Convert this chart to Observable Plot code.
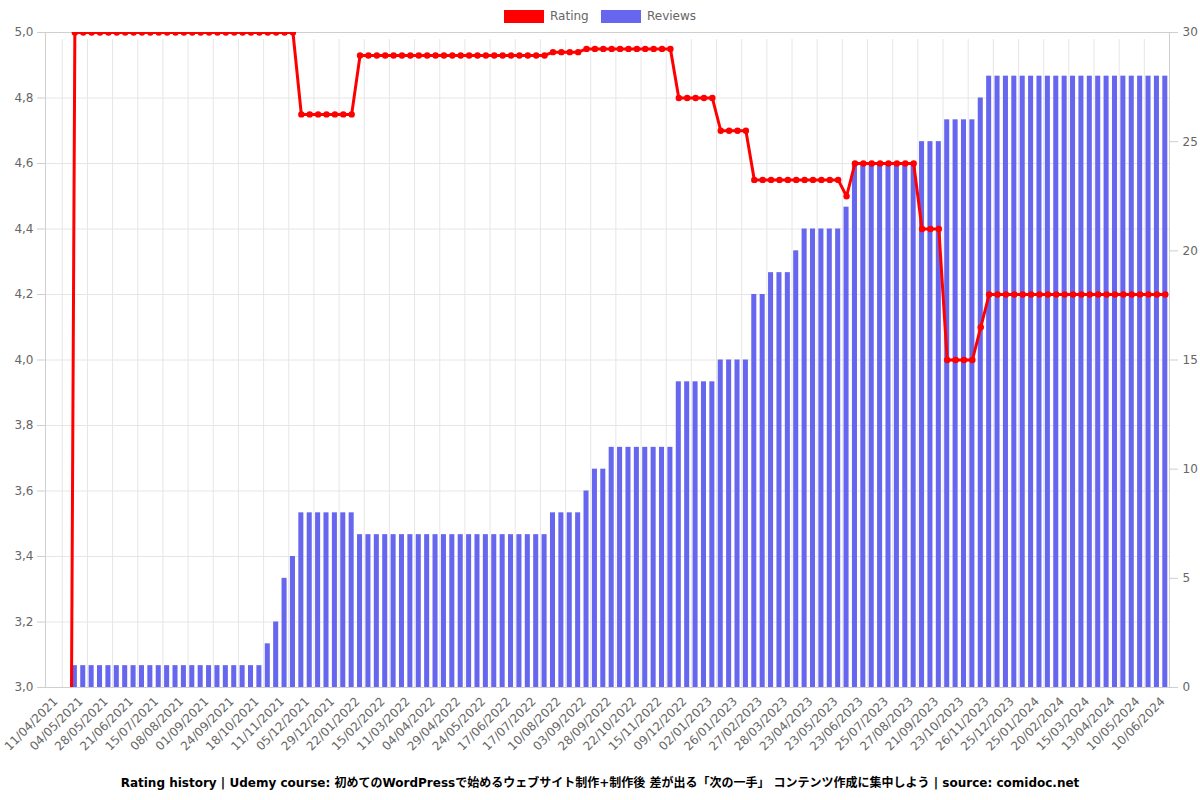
<!DOCTYPE html>
<html><head><meta charset="utf-8">
<script src="https://cdn.jsdelivr.net/npm/d3@7"></script>
<script src="https://cdn.jsdelivr.net/npm/@observablehq/plot@0.6"></script>
<style>
body{margin:0;background:#fff;font-family:"DejaVu Sans",sans-serif;}
#legend{height:26px;position:relative;font-size:12px;color:#666;}
.item{position:absolute;top:9px;display:flex;align-items:center;height:14px;}
.sw{width:40px;height:13px;margin-right:6px;}
#caption{text-align:center;font-weight:bold;font-size:12px;color:#000;padding-top:7px;font-family:"DejaVu Sans","Noto Sans CJK JP",sans-serif;}
</style></head><body>
<div id="legend">
  <div class="item" style="left:504px"><div class="sw" style="background:#ff0000"></div>Rating</div>
  <div class="item" style="left:601px"><div class="sw" style="background:#6666ee"></div>Reviews</div>
</div>
<div id="chart"></div>
<div id="caption">Rating history | Udemy course: 初めてのWordPressで始めるウェブサイト制作+制作後 差が出る「次の一手」 コンテンツ作成に集中しよう | source: comidoc.net</div>
<script>
const tickLabels = ["11/04/2021","04/05/2021","28/05/2021","21/06/2021","15/07/2021","08/08/2021","01/09/2021","24/09/2021","18/10/2021","11/11/2021","05/12/2021","29/12/2021","22/01/2022","15/02/2022","11/03/2022","04/04/2022","29/04/2022","24/05/2022","17/06/2022","17/07/2022","10/08/2022","03/09/2022","28/09/2022","22/10/2022","15/11/2022","09/12/2022","02/01/2023","26/01/2023","27/02/2023","28/03/2023","23/04/2023","23/05/2023","23/06/2023","25/07/2023","27/08/2023","21/09/2023","23/10/2023","26/11/2023","25/12/2023","25/01/2024","20/02/2024","15/03/2024","13/04/2024","10/05/2024","10/06/2024"];

const ratings = [
 0,0,0,
 5,5,5,5,5,5,5,5,5,5,5,5,5,5,5,5,5,5,5,5,5,5,5,5,5,5,5,
 4.75,4.75,4.75,4.75,4.75,4.75,4.75,
 4.93,4.93,4.93,4.93,4.93,4.93,4.93,4.93,4.93,4.93,4.93,4.93,4.93,4.93,4.93,4.93,4.93,4.93,4.93,4.93,4.93,4.93,4.93,
 4.94,4.94,4.94,4.94,
 4.95,4.95,4.95,4.95,4.95,4.95,4.95,4.95,4.95,4.95,4.95,
 4.8,4.8,4.8,4.8,4.8,
 4.7,4.7,4.7,4.7,
 4.55,4.55,4.55,4.55,4.55,4.55,4.55,4.55,4.55,4.55,4.55,
 4.5,
 4.6,4.6,4.6,4.6,4.6,4.6,4.6,4.6,
 4.4,4.4,4.4,
 4.0,4.0,4.0,4.0,
 4.1,
 4.2,4.2,4.2,4.2,4.2,4.2,4.2,4.2,4.2,4.2,4.2,4.2,4.2,4.2,4.2,4.2,4.2,4.2,4.2,4.2,4.2,4.2
];

const reviews = [
 0,0,0,
 1,1,1,1,1,1,1,1,1,1,1,1,1,1,1,1,1,1,1,1,1,1,1,
 2,3,5,6,
 8,8,8,8,8,8,8,
 7,7,7,7,7,7,7,7,7,7,7,7,7,7,7,7,7,7,7,7,7,7,7,
 8,8,8,8,
 9,
 10,10,
 11,11,11,11,11,11,11,11,
 14,14,14,14,14,
 15,15,15,15,
 18,18,
 19,19,19,
 20,
 21,21,21,21,21,
 22,
 24,24,24,24,24,24,24,24,
 25,25,25,
 26,26,26,26,
 27,
 28,28,28,28,28,28,28,28,28,28,28,28,28,28,28,28,28,28,28,28,28,28
];

const ratingTicks = [3.0,3.2,3.4,3.6,3.8,4.0,4.2,4.4,4.6,4.8,5.0];
const reviewTicks = [0,5,10,15,20,25,30];

const n = ratings.length;
const data = ratings.map((r,i)=>({i, rating:r, reviews:reviews[i]}));
const W=1200, H=740, mL=45, mR=31, mT=6, mB=79;
const step = (W-mL-mR)/n;
const toY = v => 3 + v*2/30;
const tickIdx = tickLabels.map((_,k)=>k*3);
const gridIdx = tickLabels.slice(1).map((_,k)=>(k+1)*3-1);

const chart = Plot.plot({
  width:W, height:H, marginLeft:mL, marginRight:mR, marginTop:mT, marginBottom:mB,
  style:{fontFamily:"DejaVu Sans", fontSize:"12px", color:"#666", background:"#fff"},
  x:{type:"band", domain:d3.range(n), paddingInner:0.4, paddingOuter:0.2, axis:null},
  y:{domain:[3,5], axis:null},
  marks:[
    Plot.ruleY(ratingTicks, {stroke:"#e6e6e6"}),
    Plot.ruleX(gridIdx, {x:d=>d, y1:3, y2:5, dx:-step/2, stroke:"#e6e6e6", insetBottom:-7}),
    Plot.frame({stroke:"#cfcfcf"}),
    Plot.barY(data, {x:"i", y1:3, y2:d=>toY(d.reviews), fill:"#6666ee"}),
    Plot.line(data, {x:"i", y:"rating", stroke:"#ff0000", strokeWidth:3, clip:true}),
    Plot.dot(data, {x:"i", y:"rating", r:3.2, fill:"#ff0000", clip:true}),
    Plot.axisY({ticks:ratingTicks, tickFormat:d=>d.toFixed(1).replace(".",","), tickSize:8, tickPadding:4, stroke:"#cfcfcf", fill:"#666", label:null}),
    Plot.axisY({anchor:"right", ticks:reviewTicks.map(toY), tickFormat:d=>String(Math.round((d-3)*15)), tickSize:8, tickPadding:5, stroke:"#cfcfcf", fill:"#666", label:null}),
    Plot.axisX({ticks:tickIdx, tickFormat:i=>tickLabels[i/3], tickRotate:-45, tickSize:0, tickPadding:12, dx:6, fill:"#666", label:null})
  ]
});
document.getElementById("chart").appendChild(chart);
</script>
</body></html>
